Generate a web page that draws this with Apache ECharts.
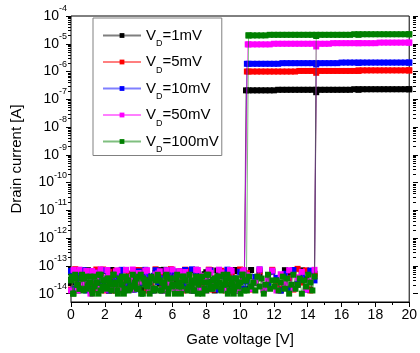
<!DOCTYPE html>
<html>
<head>
<meta charset="utf-8">
<script src="https://cdn.jsdelivr.net/npm/echarts@6/dist/echarts.min.js"></script>
<style>
  html, body { margin: 0; padding: 0; background: #fff; }
  #chart { width: 420px; height: 353px; }
</style>
</head>
<body>
<div id="chart"></div>
<script>
// drain voltages (legend)
const seriesNames = ['VD=1mV', 'VD=5mV', 'VD=10mV', 'VD=50mV', 'VD=100mV'];

// off-state current, units of 1e-14 A
const OFF_UNIT = 1e-14;
// forward sweep, starting at Vg = 0
const offFwdStep = [0.25, 0.25, 0.25, 0.25, 0.125];
const offForward = [
  [2.5,6.8,1.4,3.9,7.0,1.5,4.4,2.2,6.6,1.3,3.1,5.8,1.4,7.1,2.7,4.1,1.5,6.9,3.5,1.4,5.5,2.3,7.2,1.3,4.6,3.0,6.4,1.5,2.0,7.0,3.8,1.4,5.9,2.6,1.3,6.7,4.3,1.5,3.2,7.1,1.4,2.9],
  [1.4,7.6,3.0,5.6,1.5,2.4,7.4,4.1,1.3,6.1,3.3,1.4,7.0,2.6,5.2,1.5,3.7,6.8,1.3,2.1,7.5,4.6,1.4,3.1,6.3,1.5,2.7,7.3,4.0,1.3,5.8,2.2,1.4,7.1,3.5,1.5,6.0,2.8,4.9,1.3,7.4,3.2],
  [6.5,1.5,3.4,7.0,2.1,1.4,5.7,3.8,6.9,1.3,2.6,4.8,7.2,1.5,3.0,1.4,6.3,2.4,5.1,1.3,7.0,3.6,1.5,2.2,6.6,4.2,1.4,7.1,2.9,1.3,5.4,3.3,1.5,6.8,2.0,1.4,4.5,7.3,1.3,3.1,6.1,1.5],
  [1.3,5.9,7.3,2.4,1.5,6.6,3.6,7.5,1.4,4.3,2.0,6.9,1.3,7.2,3.2,1.5,5.5,2.7,7.0,1.4,4.9,6.4,1.3,2.3,7.4,3.9,1.5,6.0,2.9,1.4,7.1,4.4,1.3,5.6,2.1,7.3,1.5,3.4,6.7,1.4,2.6,7.0],
  [3.0,1.0,4.8,2.1,1.5,3.5,1.3,4.1,1.8,2.5, 1.3,4.1,2.5,1.0,4.8,1.8,3.0,1.5,3.5,2.1,
   4.8,2.5,1.3,3.5,2.1,1.0,4.1,3.0,1.5,1.8, 2.1,3.5,1.5,4.8,1.0,3.0,1.8,2.5,4.1,1.3,
   1.5,4.8,3.0,1.3,2.5,4.1,1.0,3.5,1.8,2.1, 3.5,1.8,1.0,4.1,3.0,1.5,4.8,2.1,1.3,2.5,
   1.0,3.0,4.1,2.5,1.3,4.8,1.8,1.5,3.5,2.1, 4.1,1.5,2.1,3.0,4.8,1.3,2.5,1.0,3.5,1.8,
   2.5,4.8,1.3,3.0]
];
// backward sweep, starting at Vg = 14.4 going down
const offBackStep = [0.25, 0.25, 0.25, 0.25, 0.125];
const offBackward = [
  [5.2,1.4,3.3,6.9,2.1,1.5,4.8,7.0,1.3,2.8,6.2,3.6,1.4,5.4,2.4,7.1,1.5,3.9,1.3,6.5,4.5,2.0,1.4,6.8,3.1,1.5,5.0,2.6,7.2,1.3,4.0,1.4,6.3,3.4,2.2,1.5,5.7,7.0,1.3,2.9,4.7,1.4,6.6,3.7,1.5,2.3,5.3,1.3,7.1,3.0,1.4,4.2,6.0,1.5,2.5,5.6,1.3,3.8],
  [4.4,1.3,6.9,2.5,7.8,1.4,3.6,5.1,1.5,2.2,7.2,3.9,1.3,6.4,2.8,1.4,5.5,7.0,1.5,3.2,4.6,1.3,6.7,2.3,1.4,7.3,3.8,1.5,5.3,2.0,6.9,1.3,4.1,1.4,7.6,2.9,1.5,5.9,3.4,1.3,6.2,2.6,7.1,1.4,4.8,1.5,3.0,6.6,1.3,2.4,7.4,3.7,1.4,5.0,1.5,6.8,2.7,4.3],
  [3.0,6.8,1.4,4.5,2.3,7.1,1.5,5.2,1.3,3.7,6.4,2.1,1.4,7.4,4.0,1.5,2.7,6.1,1.3,3.5,7.0,1.4,5.6,2.4,1.5,6.7,3.2,1.3,4.7,7.5,1.4,2.0,5.9,1.5,3.9,6.9,1.3,2.6,4.4,1.4,7.2,3.1,1.5,5.5,2.2,1.3,6.6,4.1,1.4,7.0,2.8,1.5,3.6,6.3,1.3,2.5,5.0,1.4],
  [7.2,2.8,1.4,6.1,3.9,1.5,7.0,2.2,5.0,1.3,6.8,3.4,1.4,7.5,2.5,1.5,4.6,6.3,1.3,3.0,7.1,1.4,5.8,2.0,1.5,6.9,3.7,1.3,7.3,2.6,1.4,4.2,6.5,1.5,2.3,7.0,1.3,5.3,3.1,1.4,6.7,2.9,1.5,7.4,4.0,1.3,2.1,6.2,1.4,7.1,3.5,1.5,5.7,1.0,6.6,2.7,1.3,7.2],
  [4.1,1.3,2.5,4.8,1.8,3.0,1.0,3.5,2.1,1.5, 4.8,2.1,1.0,3.5,1.5,4.1,2.5,1.3,3.0,1.8,
   3.0,1.5,4.8,2.1,1.0,3.5,1.8,4.1,1.3,2.5, 1.8,4.1,1.3,3.0,4.8,1.0,2.5,3.5,1.5,2.1,
   3.5,1.0,2.1,4.8,1.3,2.5,4.1,1.8,3.0,1.5, 2.5,4.8,1.5,1.0,3.5,2.1,4.1,1.3,3.0,1.8,
   1.3,3.0,4.1,1.8,2.5,4.8,1.0,2.1,3.5,1.5, 4.8,1.8,2.5,1.3,4.1,3.0,1.5,3.5,1.0,2.1,
   2.1,3.5,1.0,4.1,1.5,2.5,4.8,1.8,1.3,3.0, 1.5,4.1,3.0,1.0,2.1,4.8,1.3,2.5,3.5,1.8,
   3.0,1.3,4.8,2.5,1.8,1.0,4.1,2.1,1.5,3.5, 4.8,1.5,2.1,3.5,1.0,4.1]
];

// switching voltages [V]
const turnOnV = [10.35, 10.4, 10.4, 10.45, 10.5];
const TURN_OFF_V = 14.4;

// on-state current: mantissa x onUnit
const onUnit = [1e-7, 1e-6, 1e-6, 1e-5, 1e-5];
// forward sweep, Vg = 10.5, 10.75, ... 20
const onForward = [
  [2.1,2.1,2.1,2.1,2.1,2.1,2.1,2.2,2.2,2.2,2.2,2.2,2.2,2.2,2.2,2.2,2.2,2.2,2.2,2.2,2.2,2.2,2.2,2.2,2.2,2.3,2.3,2.3,2.3,2.3,2.3,2.3,2.3,2.3,2.3,2.3,2.3,2.3,2.3],
  [1.0,1.0,1.0,1.0,1.0,1.0,1.0,1.0,1.0,1.0,1.0,1.0,1.05,1.05,1.05,1.05,1.05,1.05,1.05,1.05,1.05,1.05,1.05,1.05,1.05,1.05,1.1,1.1,1.1,1.1,1.1,1.1,1.1,1.1,1.1,1.1,1.1,1.1,1.1],
  [1.9,1.9,1.9,1.9,1.9,1.9,1.9,1.9,2.0,2.0,2.0,2.0,2.0,2.0,2.0,2.0,2.0,2.0,2.0,2.0,2.0,2.0,2.1,2.1,2.1,2.1,2.1,2.1,2.1,2.1,2.1,2.1,2.1,2.1,2.1,2.1,2.1,2.1,2.1],
  [0.95,0.95,0.95,0.95,0.95,0.95,1.0,1.0,1.0,1.0,1.0,1.0,1.0,1.0,1.0,1.0,1.0,1.0,1.0,1.0,1.05,1.05,1.05,1.05,1.05,1.05,1.05,1.05,1.05,1.05,1.05,1.1,1.1,1.1,1.1,1.1,1.1,1.1,1.1],
  [2.0,2.0,2.0,2.0,2.0,2.1,2.1,2.1,2.1,2.1,2.1,2.1,2.1,2.1,2.1,2.1,2.1,2.1,2.1,2.1,2.1,2.1,2.1,2.1,2.1,2.2,2.2,2.2,2.2,2.2,2.2,2.2,2.2,2.2,2.2,2.2,2.2,2.2,2.2]
];
// backward sweep
const onBackwardV = [20, 17, 14.5];
const onBackward = [
  [2.3, 2.2, 1.8],
  [1.1, 1.05, 0.9],
  [2.1, 2.05, 1.8],
  [1.1, 1.05, 0.8],
  [2.2, 2.1, 1.9]
];

const ON_STEP = 0.25;
const ON_START_V = 10.5;

const markColors = ['#000000', '#ff0000', '#0000ff', '#ff00ff', '#008000'];
const FONT = 'Liberation Sans, Arial, sans-serif';

function sweep(k) {
  const pts = [];
  offForward[k].forEach((v, i) => pts.push([i * offFwdStep[k], v * OFF_UNIT]));
  pts.push([turnOnV[k], onForward[k][0] * onUnit[k]]);
  onForward[k].forEach((v, i) => pts.push([ON_START_V + i * ON_STEP, v * onUnit[k]]));
  onBackward[k].forEach((v, i) => pts.push([onBackwardV[i], v * onUnit[k]]));
  offBackward[k].forEach((v, i) => pts.push([TURN_OFF_V - i * offBackStep[k], v * OFF_UNIT]));
  return pts;
}

const chart = echarts.init(document.getElementById('chart'));

const yLabel = (v) => {
  const e = Math.round(Math.log10(v));
  return '{b|10}{s|' + e + '}';
};

const tickAxis = {
  type: 'log',
  logBase: 10,
  gridIndex: 1,
  min: 1e-14,
  max: 1e-4,
  interval: 1,
  splitLine: { show: false },
  axisLine: { show: false },
  axisTick: { show: true, length: 5, lineStyle: { color: '#000' } },
  minorTick: { show: true, splitNumber: 9, length: 3, lineStyle: { color: '#000' } },
};

chart.setOption({
  animation: false,
  textStyle: { fontFamily: FONT },
  grid: [
    // plot area (axis runs a bit below 1e-14)
    { left: 71, right: 7, top: 16, bottom: 51, show: true, borderColor: '#000', borderWidth: 1, backgroundColor: 'transparent' },
    // decade ticks 1e-14 .. 1e-4
    { left: 71, right: 7, top: 16, bottom: 59.33 }
  ],
  legend: {
    orient: 'vertical',
    left: 93,
    top: 18,
    padding: [10, 3, 1, 9],
    itemGap: 6,
    itemWidth: 38,
    itemHeight: 6,
    borderColor: '#808080',
    borderWidth: 1,
    data: seriesNames,
    formatter: (n) => '{v|V}{d|D}{v|' + n.slice(2) + '}',
    textStyle: {
      color: '#000',
      fontFamily: FONT,
      fontSize: 15,
      rich: {
        v: { fontSize: 15, lineHeight: 26, verticalAlign: 'middle', fontFamily: FONT, color: '#000' },
        d: { fontSize: 9, lineHeight: 9, verticalAlign: 'bottom', fontFamily: FONT, color: '#000' }
      }
    }
  },
  xAxis: [
    {
      type: 'value',
      gridIndex: 0,
      min: 0,
      max: 20,
      interval: 2,
      name: 'Gate voltage [V]',
      nameLocation: 'middle',
      nameGap: 30,
      nameTextStyle: { fontSize: 15, color: '#000', fontFamily: FONT },
      splitLine: { show: false },
      axisLine: { lineStyle: { color: '#000', width: 1 } },
      axisTick: { length: 5, lineStyle: { color: '#000' } },
      minorTick: { show: true, splitNumber: 2, length: 3, lineStyle: { color: '#000' } },
      axisLabel: { fontSize: 14, color: '#000', margin: 6, fontFamily: FONT }
    },
    { type: 'value', gridIndex: 1, min: 0, max: 20, show: false }
  ],
  yAxis: [
    {
      type: 'log',
      logBase: 10,
      gridIndex: 0,
      min: 5e-15,
      max: 1e-4,
      name: 'Drain current [A]',
      nameLocation: 'middle',
      nameGap: 47,
      nameTextStyle: { fontSize: 15, color: '#000', fontFamily: FONT },
      splitLine: { show: false },
      axisLine: { show: false },
      axisTick: { show: false },
      axisLabel: { show: false }
    },
    Object.assign({}, tickAxis, {
      position: 'left',
      axisLabel: {
        margin: 4,
        color: '#000',
        formatter: yLabel,
        rich: {
          b: { fontSize: 14, lineHeight: 24, verticalAlign: 'middle', fontFamily: FONT, color: '#000' },
          s: { fontSize: 9, lineHeight: 9, verticalAlign: 'top', fontFamily: FONT, color: '#000' }
        }
      }
    }),
    Object.assign({}, tickAxis, {
      position: 'right',
      axisLabel: { show: false }
    })
  ],
  series: seriesNames.map((name, k) => ({
    name: name,
    type: 'line',
    xAxisIndex: 0,
    yAxisIndex: 0,
    data: sweep(k),
    symbol: 'rect',
    symbolSize: 6,
    itemStyle: { color: markColors[k] },
    lineStyle: { color: markColors[k], width: 1, opacity: 0.5 },
    emphasis: { disabled: true },
    z: 2 + k
  }))
});
</script>
</body>
</html>
